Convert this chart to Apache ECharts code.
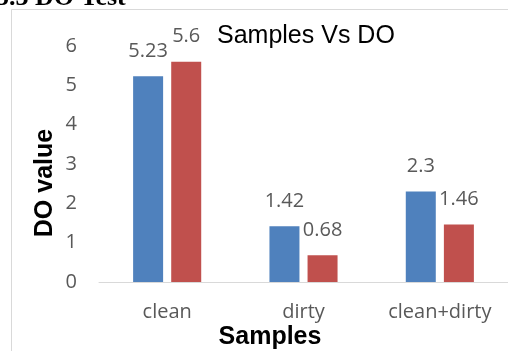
<!DOCTYPE html>
<html>
<head>
<meta charset="utf-8">
<script src="https://cdn.jsdelivr.net/npm/echarts@6/dist/echarts.min.js"></script>
<style>html,body{margin:0;padding:0;background:#fff}#c{width:508px;height:351px}</style>
</head>
<body>
<div id="c"></div>
<script>
const categories = ['clean', 'dirty', 'clean+dirty'];
const seriesA = [5.23, 1.42, 2.3];
const seriesB = [5.6, 0.68, 1.46];
const yTicks = [0, 1, 2, 3, 4, 5, 6];

const chart = echarts.init(document.getElementById('c'), null, {renderer: 'canvas'});
const labelFont = {fontFamily: 'Open Sans', fontSize: 20, color: '#595959'};
chart.setOption({
  animation: false,
  backgroundColor: '#fff',
  grid: {left: 99, width: 410, top: 46, bottom: 69, containLabel: false},
  xAxis: {
    type: 'category', data: categories,
    axisLine: {lineStyle: {color: '#d9d9d9', width: 1}},
    axisTick: {show: false},
    axisLabel: Object.assign({margin: 20}, labelFont)
  },
  yAxis: {
    type: 'value', min: yTicks[0], max: yTicks[yTicks.length - 1], interval: 1,
    axisLine: {show: false}, axisTick: {show: false}, splitLine: {show: false},
    axisLabel: Object.assign({margin: 22}, labelFont)
  },
  series: [
    {type: 'bar', data: seriesA, barWidth: 30, barGap: '27%',
     itemStyle: {color: '#4F81BD'},
     label: Object.assign({show: true, position: 'top', distance: 15}, labelFont)},
    {type: 'bar', data: seriesB, barWidth: 30, barGap: '27%',
     itemStyle: {color: '#C0504D'},
     label: Object.assign({show: true, position: 'top', distance: 15}, labelFont)}
  ],
  graphic: [
    {type: 'rect', shape: {x: 11.5, y: 9.5, width: 520, height: 360}, style: {fill: 'none', stroke: '#d9d9d9', lineWidth: 1}, z: -1},
    {type: 'text', x: -4, y: -2, style: {text: '5.3 DO Test', font: 'bold 26px "Liberation Serif"', fill: '#000', verticalAlign: 'middle', align: 'left'}},
    {type: 'text', x: 217, y: 36, style: {text: 'Samples Vs DO', font: '25px "Liberation Sans"', fill: '#000', verticalAlign: 'middle', align: 'left'}},
    {type: 'text', x: 45, y: 183, rotation: Math.PI / 2, style: {text: 'DO value', font: 'bold 25px "Liberation Sans"', fill: '#000', verticalAlign: 'middle', align: 'center'}},
    {type: 'text', x: 270, y: 337, style: {text: 'Samples', font: 'bold 25px "Liberation Sans"', fill: '#000', verticalAlign: 'middle', align: 'center'}}
  ]
});
</script>
</body>
</html>
